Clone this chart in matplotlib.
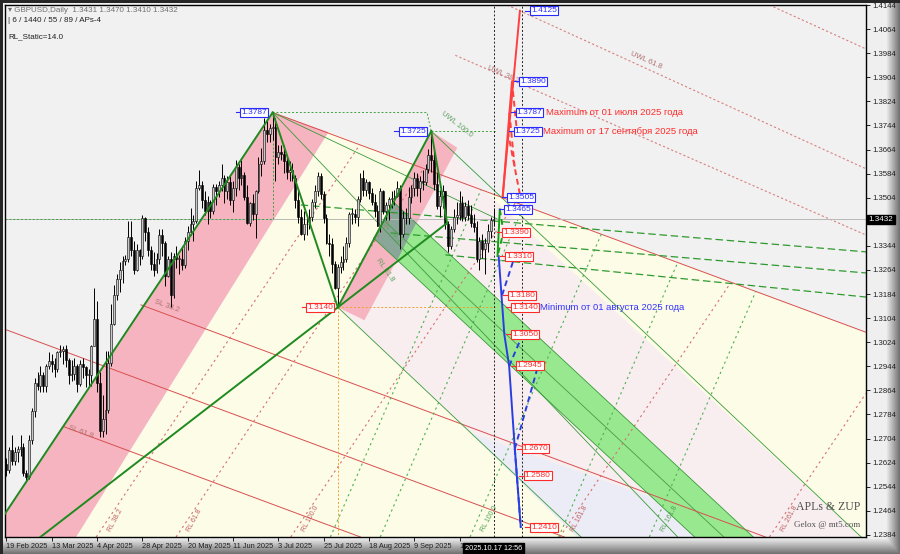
import numpy as np
import matplotlib.pyplot as plt
from matplotlib.patches import Polygon

plt.rcParams['font.family'] = ['Liberation Sans', 'DejaVu Sans']

# ---------------- price data (GBPUSD daily, 19 Feb 2025 .. 17 Oct 2025) ----------------
first_open = 12620
closes = [12600, 12665, 12630, 12660, 12670, 12675, 12590, 12575,
          12700, 12795, 12890, 12880, 12915, 12880, 12945, 12960, 12950, 12935, 12990, 12995, 13000, 12965, 12915,
          12920, 12945, 12885, 12950, 12940, 12915,
          12915, 13010, 13100, 12890, 12730, 12770, 12800, 12955, 13085, 13180, 13235, 13265, 13295, 13300,
          13375, 13330, 13265, 13330, 13310, 13435, 13390, 13330,
          13285, 13265, 13300, 13380, 13355, 13245, 13300, 13180, 13310, 13300, 13300, 13280, 13360, 13390, 13415,
          13425, 13535, 13545, 13495, 13460, 13490, 13460,
          13540, 13525, 13545, 13570, 13525, 13555, 13495, 13535, 13605, 13570, 13580, 13505, 13420, 13485, 13450,
          13525, 13615, 13625, 13730, 13715, 13735,
          13740, 13640, 13655, 13650, 13625, 13590, 13595, 13570, 13495, 13440, 13385, 13415, 13415, 13440,
          13490, 13525, 13575, 13515, 13435, 13355, 13350, 13285, 13205,
          13275, 13290, 13300, 13355, 13450, 13450, 13440, 13500, 13570, 13530, 13555, 13520, 13490, 13460, 13410,
          13525, 13460, 13480, 13500, 13500, 13510,
          13535, 13385, 13435, 13435, 13505, 13535, 13570, 13535, 13560, 13555, 13600, 13645, 13630, 13550, 13475,
          13510, 13525, 13415, 13345, 13400, 13440, 13445,
          13485, 13440, 13475, 13445, 13420, 13405, 13300, 13360, 13335, 13355, 13395, 13430, 13432]
highs = [12640, 12675, 12715, 12675, 12680, 12715, 12690, 12600,
         12715, 12805, 12905, 12925, 12945, 12925, 12950, 12990, 12985, 12970, 12995, 13015, 13010, 13015, 12970,
         12965, 12970, 12950, 12965, 12970, 12945,
         12935, 13015, 13205, 13160, 12925, 12850, 12995, 12995, 13150, 13215, 13250, 13290, 13310, 13315,
         13425, 13425, 13360, 13350, 13335, 13445, 13440, 13405,
         13345, 13325, 13320, 13400, 13400, 13360, 13310, 13325, 13320, 13345, 13315, 13340, 13375, 13410, 13470,
         13445, 13560, 13595, 13560, 13525, 13510, 13495,
         13550, 13550, 13560, 13615, 13580, 13575, 13580, 13560, 13630, 13615, 13630, 13590, 13545, 13490, 13515,
         13530, 13640, 13670, 13770, 13760, 13750,
         13787, 13770, 13680, 13680, 13680, 13640, 13625, 13620, 13580, 13525, 13465, 13460, 13445, 13465,
         13500, 13545, 13590, 13585, 13525, 13450, 13385, 13370, 13295,
         13285, 13310, 13345, 13375, 13455, 13470, 13465, 13510, 13585, 13595, 13565, 13560, 13535, 13515, 13480,
         13535, 13530, 13490, 13505, 13525, 13530,
         13560, 13545, 13460, 13470, 13540, 13545, 13590, 13585, 13575, 13595, 13615, 13665, 13725, 13660, 13590,
         13530, 13545, 13525, 13425, 13410, 13465, 13490,
         13525, 13510, 13490, 13495, 13480, 13450, 13425, 13375, 13385, 13370, 13415, 13440, 13470]
lows = [12580, 12590, 12615, 12615, 12625, 12645, 12580, 12560,
        12570, 12685, 12775, 12865, 12860, 12860, 12860, 12935, 12925, 12910, 12925, 12975, 12950, 12940, 12885,
        12895, 12900, 12860, 12880, 12905, 12875,
        12875, 12880, 13010, 12860, 12710, 12710, 12720, 12790, 12945, 13080, 13165, 13190, 13220, 13280,
        13290, 13310, 13250, 13260, 13280, 13300, 13360, 13310,
        13265, 13245, 13255, 13285, 13310, 13210, 13240, 13140, 13170, 13270, 13250, 13265, 13270, 13330, 13380,
        13360, 13420, 13530, 13470, 13445, 13415, 13435,
        13450, 13480, 13505, 13525, 13485, 13500, 13480, 13455, 13510, 13530, 13545, 13495, 13415, 13410, 13430,
        13370, 13520, 13575, 13615, 13690, 13690,
        13695, 13560, 13615, 13630, 13585, 13565, 13560, 13560, 13470, 13420, 13380, 13365, 13380, 13400,
        13425, 13470, 13510, 13500, 13420, 13350, 13310, 13255, 13200,
        13140, 13255, 13265, 13290, 13340, 13415, 13420, 13410, 13490, 13510, 13510, 13500, 13480, 13440, 13410,
        13390, 13450, 13430, 13430, 13470, 13480,
        13505, 13335, 13375, 13415, 13415, 13485, 13510, 13510, 13490, 13530, 13545, 13585, 13590, 13530, 13465,
        13440, 13470, 13400, 13325, 13335, 13390, 13415,
        13430, 13425, 13425, 13430, 13405, 13390, 13290, 13265, 13305, 13250, 13325, 13370, 13410]

date_labels = ["19 Feb 2025", "13 Mar 2025", "4 Apr 2025", "28 Apr 2025", "20 May 2025", "11 Jun 2025",
               "3 Jul 2025", "25 Jul 2025", "18 Aug 2025", "9 Sep 2025", "1"]
date_bars = [0, 16, 32, 48, 64, 80, 96, 112, 128, 144, 160]
y_ticks = [1.2384 + 0.008 * k for k in range(23)]
last_price = 1.3432
now_bar = 172

# ---------------- analysis drawing anchors (bar, price) ----------------
pink1 = [(94, 1.3787), (113.7, 1.3722), (24.6, 1.2377), (-6, 1.2377)]
pink2 = [(117, 1.3140), (150, 1.3725), (159.2, 1.3670), (126.4, 1.3097)]
green_band = [(136.6, 1.3490), (263.7, 1.2377), (243.0, 1.2377), (129.6, 1.3370)]
band_mid = [(133.1, 1.3430), (253.3, 1.2377)]
teal = [(136.6, 1.3490), (144.7, 1.3420), (138.0, 1.3297), (129.6, 1.3370)]
ivory = [(113.7, 1.3722), (303.5, 1.3057), (303.5, 1.2377), (24.6, 1.2377)]
pinkwhite = [(136.6, 1.3490), (150, 1.3725), (170, 1.3516), (301.8, 1.2377), (263.7, 1.2377)]
pinkwhite2 = [(129.6, 1.3370), (117, 1.3140), (163.7, 1.2723), (231.3, 1.2497)]
lavender = [(163.7, 1.2723), (201.4, 1.2377), (243.0, 1.2377), (231.3, 1.2497)]

green_thick = [[(-6, 1.2377), (94, 1.3787)], [(94, 1.3787), (117, 1.3140)], [(117, 1.3140), (150, 1.3725)],
               [(150, 1.3725), (155.6, 1.3420)], [(12, 1.2377), (155.6, 1.3420)]]
green_thin = [[(150, 1.3725), (301.8, 1.2377)], [(117, 1.3140), (202.9, 1.2377)],
              [(94, 1.3787), (174, 1.3430)], [(94, 1.3787), (237, 1.2377)],
              [(136.6, 1.3490), (263.7, 1.2377)], [(129.6, 1.3370), (243.0, 1.2377)]]
green_dashed = [[(103.9, 1.3480), (303.5, 1.3324)], [(135.6, 1.3387), (303.5, 1.3254)],
                [(155, 1.3314), (303.5, 1.3174)]]
median = [(94, 1.3787), (303.5, 1.3057)]
red_lines = [median, [(47.5, 1.3148), (268, 1.2377)],
             [(0, 1.3065), (197, 1.2377)], [(20.4, 1.2743), (125, 1.2377)]]
red_dotted = [[(176.8, 1.4144), (303.5, 1.3600)], [(158.5, 1.3977), (303.5, 1.3380)],
              [(269.4, 1.4144), (303.5, 1.3998)]]
# reaction lines: start bar on the bottom edge, slope in price per bar, label
red_rl = [(31.7, 0.0014, "RL 38.2"), (59.9, 0.0014, "RL 61.8"), (100.4, 0.0014, "RL 100.0"),
          (195.4, 0.0014, "RL 161.8"), (269.4, 0.0014, "RL 261.8")]
green_rl = [(114.4, 0.00217, ""), (132.0, 0.00217, ""), (163.7, 0.00217, "RL 100.0"),
            (195.0, 0.00217, ""), (227.0, 0.00217, "RL 161.8")]

red_proj = [[(175.2, 1.3505), (181.3, 1.4125)], [(175.2, 1.3505), (178.5, 1.3890)]]
red_proj_dash = [[(178.5, 1.3890), (180.5, 1.3700)], [(177.6, 1.3787), (179.5, 1.3600)],
                 [(177.0, 1.3725), (181.5, 1.3505)]]
blue_proj = [[(173.8, 1.3310), (175.8, 1.3050), (177.5, 1.2945), (179.5, 1.2670), (181.6, 1.2410)]]
blue_proj_dash = [[(175.0, 1.3180), (179.5, 1.3310)], [(177.5, 1.2945), (182.3, 1.3050)],
                  [(179.5, 1.2670), (187.7, 1.2945)], [(179.5, 1.2670), (181.6, 1.2410)]]
green_proj = [[(173.4, 1.3310), (174.2, 1.3465)]]
green_proj_dash = [[(174.2, 1.3465), (175.5, 1.3390), (173.4, 1.3310)]]

blue_tags = [(184.9, 1.4125), (181.0, 1.3890), (179.9, 1.3787), (179.2, 1.3725), (176.8, 1.3505),
             (175.7, 1.3465), (82.7, 1.3787), (138.7, 1.3725)]
red_tags = [(175.0, 1.3390), (176.1, 1.3310), (177.1, 1.3180), (178.2, 1.3140), (178.2, 1.3050),
            (179.9, 1.2945), (182.0, 1.2670), (182.7, 1.2580), (184.9, 1.2410), (106.0, 1.3140)]
notes = [("Maximum от 01 июля 2025 года", 190.6, 1.3787, '#ff2a2a'),
         ("Maximum от 17 сентября 2025 года", 189.6, 1.3725, '#ff2a2a'),
         ("Minimum от 01 августа 2025 года", 188.4, 1.3140, '#3333ff')]

YMIN, YMAX, XMIN, XMAX = 1.2377, 1.4144, -0.5, 303.5

# ---------------- figure ----------------
fig = plt.figure(figsize=(9, 5.54), dpi=100)
# window chrome
frame = np.full((554, 900), 0.94)
frame[538:, :] = np.linspace(0.93, 0.45, 16)[:, None]
frame[:, 886:] = np.minimum(frame[:, 886:], np.linspace(0.93, 0.45, 14)[None, :])
frame[:3, :] = 0.15
frame[:, :3] = 0.15
bg = fig.add_axes([0, 0, 1, 1])
bg.imshow(np.dstack([frame] * 3), aspect='auto', interpolation='nearest')
bg.axis('off')

ax = fig.add_axes([5 / 900, 17 / 554, 861 / 900, 532 / 554])
ax.set_facecolor('#f1f1f1')
ax.set_xlim(XMIN, XMAX)
ax.set_ylim(YMIN, YMAX)

for poly, col in [(ivory, '#fcfce7'), (pinkwhite, '#f8eef0'), (pinkwhite2, '#f8eef0'), (lavender, '#ececf6'),
                  (pink1, '#f6b4c0'), (pink2, '#f6b4c0'), (green_band, '#97e88f'), (teal, '#8aa698')]:
    ax.add_patch(Polygon(poly, closed=True, fc=col, ec='none', zorder=1))
xs, ys = zip(*band_mid)
ax.plot(xs, ys, color='#4a9a4a', lw=0.6, zorder=2)

for seg in red_lines:
    xs, ys = zip(*seg)
    ax.plot(xs, ys, color='#d85050', lw=0.7, zorder=2)
for seg in red_dotted:
    xs, ys = zip(*seg)
    ax.plot(xs, ys, color='#d88080', lw=0.8, ls=(0, (2, 2)), zorder=2)

# reaction lines run from the bottom edge up to the median line
(mx0, my0), (mx1, my1) = median
m_slope = (my1 - my0) / (mx1 - mx0)
for rl, col, tcol in [(red_rl, '#d87070', '#c06060'), (green_rl, '#50b050', '#50a050')]:
    for b0, s, name in rl:
        xe = (my0 - m_slope * mx0 - YMIN + s * b0) / (s - m_slope)
        xe = min(xe, XMAX)
        ye = YMIN + s * (xe - b0)
        ax.plot([b0, xe], [YMIN, ye], color=col, lw=0.8, ls=(0, (2, 3)), zorder=2)
        if name:
            ax.text(b0 + 3.5, YMIN + 0.0015, name, color=tcol, fontsize=5, rotation=62, ha='left',
                    va='bottom', zorder=3)

for seg in green_thin:
    xs, ys = zip(*seg)
    ax.plot(xs, ys, color='#3a9a3a', lw=0.6, zorder=2)
for seg in green_dashed:
    xs, ys = zip(*seg)
    ax.plot(xs, ys, color='#2e9a2e', lw=0.9, ls=(0, (6, 3)), zorder=2)

ax.axhline(last_price, color='#b8b8b8', lw=0.7, zorder=2)
ax.plot([-0.5, 94], [last_price, last_price], color='#40a040', lw=0.7, ls=(0, (2, 2)), zorder=2)
ax.plot([94, 94], [1.3787, last_price], color='#40a040', lw=0.7, ls=(0, (2, 2)), zorder=2)
ax.plot([94, 148.5, 150], [1.3787, 1.3787, 1.3725], color='#40a040', lw=0.7, ls=(0, (2, 2)), zorder=2)
ax.plot([150, 173], [1.3725, 1.3725], color='#40a040', lw=0.7, ls=(0, (2, 2)), zorder=2)
ax.plot([117, 173], [1.3140, 1.3140], color='#f0a030', lw=0.7, ls=(0, (2, 2)), zorder=2)
ax.plot([117, 117], [1.3140, 1.2377], color='#f0a030', lw=0.7, ls=(0, (2, 2)), zorder=2)

# candles
c = np.array(closes) / 1e4
o = np.concatenate([[first_open / 1e4], c[:-1]])
h = np.maximum(np.array(highs) / 1e4, np.maximum(o, c))
l = np.minimum(np.array(lows) / 1e4, np.minimum(o, c))
bars = np.arange(len(c))
up = c >= o
ax.vlines(bars, l, h, color='black', lw=0.7, zorder=4)
ax.bar(bars[up], np.maximum(c - o, 0.0003)[up], bottom=o[up], width=0.65, color='#c8c8c8',
       edgecolor='black', lw=0.4, zorder=5)
ax.bar(bars[~up], np.maximum(o - c, 0.0003)[~up], bottom=c[~up], width=0.65, color='black',
       edgecolor='black', lw=0.4, zorder=5)

for seg in green_thick:
    xs, ys = zip(*seg)
    ax.plot(xs, ys, color='#1f8a1f', lw=1.4, zorder=6)

# projections
for segs, col, ls in [(red_proj, '#ff4040', '-'), (red_proj_dash, '#ff4040', (0, (3, 2))),
                      (blue_proj, '#2a3ee0', '-'), (blue_proj_dash, '#2a3ee0', (0, (3, 2))),
                      (green_proj, '#12a012', '-'), (green_proj_dash, '#12a012', (0, (3, 2)))]:
    for seg in segs:
        xs, ys = zip(*seg)
        ax.plot(xs, ys, color=col, lw=1.4, ls=ls, zorder=7)

for xv in [now_bar + 0.2, 182]:
    ax.axvline(xv, color='#202020', lw=0.7, ls=(0, (2, 2)), zorder=3)

for tags, col in [(blue_tags, '#2a2aff'), (red_tags, '#ff2a2a')]:
    for bx, p in tags:
        ax.plot([bx - 1.8, bx], [p, p], color=col, lw=0.8, zorder=8)
        ax.text(bx + 0.3, p, f"{p:.4f}", color=col, fontsize=6, va='center', ha='left', zorder=9,
                bbox=dict(boxstyle='square,pad=0.12', fc='white', ec=col, lw=0.8))

for txt, bx, p, col in notes:
    ax.text(bx, p, txt, color=col, fontsize=6.8, va='center', ha='left', zorder=9)

# small fibo labels
for txt, bx, p, rot, col in [("UWL 61.8", 220, 1.3925, -24, '#b07070'), ("UWL 38.2", 169.5, 1.3880, -24, '#b07070'),
                             ("UWL 100.0", 153, 1.3700, -38, '#60a060'), ("SL 38.2", 52, 1.3120, -20, '#b07070'),
                             ("SL 61.8", 21.5, 1.2700, -20, '#b07070'), ("SL 38.2", 132, 1.3350, -50, '#60a060'),
                             ("RL 61.8", 130, 1.3220, -55, '#60a060')]:
    ax.text(bx, p, txt, color=col, fontsize=5.5, rotation=rot, ha='left', va='bottom', zorder=3)

# axes formatting
for s in ax.spines.values():
    s.set_color('black')
    s.set_linewidth(1)
ax.yaxis.tick_right()
ax.set_yticks(y_ticks)
ax.set_yticklabels(["" if abs(v - last_price) < 0.002 else f"{v:.4f}" for v in y_ticks])
ax.set_xticks(date_bars)
ax.set_xticklabels(date_labels, ha='left')
ax.tick_params(axis='y', labelsize=5.6, colors='#202020', length=3, width=0.7, pad=1.5)
ax.tick_params(axis='x', labelsize=5.3, colors='#202020', length=3, width=0.7, pad=1)
ax.text(1.003, (last_price - YMIN) / (YMAX - YMIN), f"{last_price:.4f}", transform=ax.transAxes,
        color='white', fontsize=5.8, va='center', ha='left', zorder=10,
        bbox=dict(boxstyle='square,pad=0.15', fc='black', ec='black'))
ax.text(now_bar, -0.021, "2025.10.17 12:56", transform=ax.get_xaxis_transform(), color='white', fontsize=5.3,
        va='center', ha='center', zorder=10, bbox=dict(boxstyle='square,pad=0.2', fc='black', ec='black'))

fig.text(8 / 900, 1 - 10 / 554, "▾ GBPUSD,Daily  1.3431 1.3470 1.3410 1.3432", fontsize=5.8, color='#707070',
         va='center')
fig.text(8 / 900, 1 - 20 / 554, "| 6 / 1440 / 55 / 89 / APs-4", fontsize=5.8, color='#202020', va='center')
fig.text(8 / 900, 1 - 37 / 554, "RL_Static=14.0", fontsize=5.8, color='#202020', va='center')
ax.text(0.993, 0.045, "APLs & ZUP", transform=ax.transAxes, fontsize=8.5, color='#505050',
        family='Liberation Serif', ha='right', va='bottom', zorder=9)
ax.text(0.993, 0.015, "Gelox @ mt5.com", transform=ax.transAxes, fontsize=6.5, color='#505050',
        family='Liberation Serif', ha='right', va='bottom', zorder=9)

fig.savefig('out.png', dpi=100)
